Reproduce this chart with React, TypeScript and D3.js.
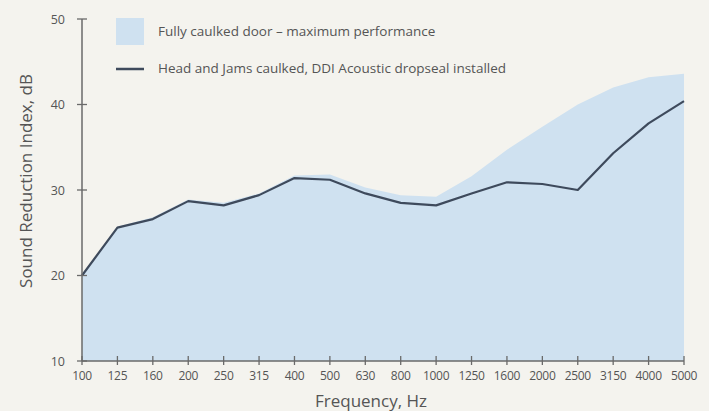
import React from 'react';
import * as d3 from 'd3';

// third-octave band centre frequencies
const freqs = ['100', '125', '160', '200', '250', '315', '400', '500', '630', '800', '1000', '1250', '1600', '2000', '2500', '3150', '4000', '5000'];
// fully caulked door (shaded area)
const fullyCaulked = [20, 25.7, 26.8, 28.9, 28.5, 29.6, 31.7, 31.8, 30.3, 29.4, 29.2, 31.6, 34.7, 37.4, 40.0, 42.0, 43.2, 43.6];
// head and jams caulked + dropseal (line)
const dropseal = [20, 25.6, 26.6, 28.7, 28.2, 29.4, 31.4, 31.2, 29.6, 28.5, 28.2, 29.6, 30.9, 30.7, 30.0, 34.3, 37.8, 40.4];
const yTicks = [10, 20, 30, 40, 50];

const W = 709;
const H = 411;
const FONT = '"Open Sans", "Noto Sans", sans-serif';
const BG = '#f4f3ee';
const AREA = '#cfe1f0';
const LINE = '#3e4a5c';
const AXIS = '#6a6a6a';
const TEXT = '#555';

export default function App() {
  const x = d3.scalePoint<string>().domain(freqs).range([82, 684]);
  const y = d3.scaleLinear().domain([10, 50]).range([361, 19]);

  const area = d3.area<number>()
    .x((_, i) => x(freqs[i])!)
    .y0(y(10))
    .y1(d => y(d));
  const line = d3.line<number>()
    .x((_, i) => x(freqs[i])!)
    .y(d => y(d));

  return (
    <svg width={W} height={H} style={{ position: 'absolute', left: 0, top: 0, background: BG }} fontFamily={FONT}>
      <rect width={W} height={H} fill={BG} />
      <path d={area(fullyCaulked)!} fill={AREA} />
      <path d={line(dropseal)!} fill="none" stroke={LINE} strokeWidth={2.2} strokeLinejoin="round" />

      {/* y axis */}
      <line x1={82} x2={82} y1={y(50)} y2={y(10)} stroke={AXIS} strokeWidth={1.5} />
      {yTicks.map(t => (
        <g key={t}>
          <line x1={77} x2={87} y1={y(t)} y2={y(t)} stroke={AXIS} strokeWidth={1.3} />
          <text x={65} y={y(t) + 4.5} textAnchor="end" fontSize={12.5} fill={TEXT}>{t}</text>
        </g>
      ))}

      {/* x axis */}
      <line x1={82} x2={684} y1={y(10)} y2={y(10)} stroke={AXIS} strokeWidth={1.5} />
      {freqs.map(f => (
        <g key={f}>
          <line x1={x(f)} x2={x(f)} y1={y(10) - 5} y2={y(10) + 4} stroke={AXIS} strokeWidth={1.3} />
          <text x={x(f)} y={y(10) + 19} textAnchor="middle" fontSize={12} fill={TEXT} letterSpacing={-0.3}>{f}</text>
        </g>
      ))}

      <text x={371} y={407} textAnchor="middle" fontSize={17} fill={TEXT}>Frequency, Hz</text>
      <text transform="translate(32,181) rotate(-90)" textAnchor="middle" fontSize={17} fill={TEXT}>Sound Reduction Index, dB</text>

      {/* legend */}
      <rect x={116} y={18} width={28} height={27} fill={AREA} />
      <text x={158} y={36} fontSize={13.5} fill={TEXT}>Fully caulked door – maximum performance</text>
      <line x1={116} x2={144} y1={69} y2={69} stroke={LINE} strokeWidth={2.5} />
      <text x={158} y={73} fontSize={13.5} fill={TEXT}>Head and Jams caulked, DDI Acoustic dropseal installed</text>
    </svg>
  );
}
